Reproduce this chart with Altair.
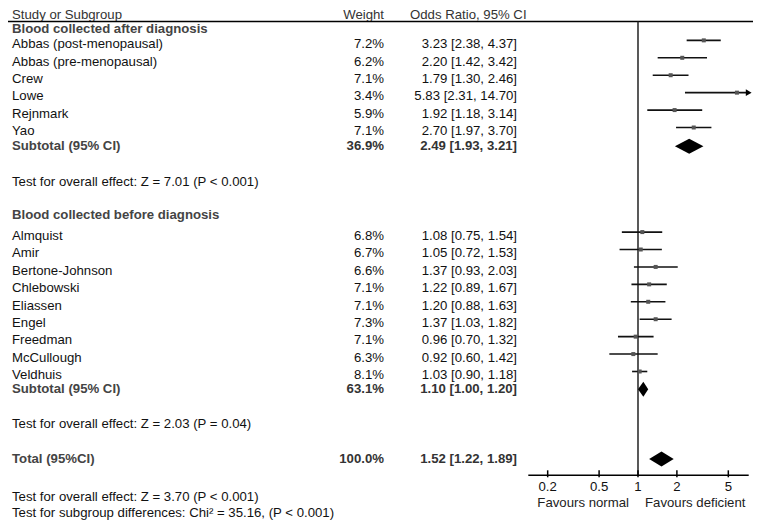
import altair as alt
import pandas as pd

# ---------------- data ----------------
study_names = ["Abbas (post-menopausal)", "Abbas (pre-menopausal)", "Crew", "Lowe", "Rejnmark", "Yao",
               "Almquist", "Amir", "Bertone-Johnson", "Chlebowski", "Eliassen", "Engel", "Freedman",
               "McCullough", "Veldhuis"]
study_weights = [7.2, 6.2, 7.1, 3.4, 5.9, 7.1, 6.8, 6.7, 6.6, 7.1, 7.1, 7.3, 7.1, 6.3, 8.1]
study_or = [3.23, 2.20, 1.79, 5.83, 1.92, 2.70, 1.08, 1.05, 1.37, 1.22, 1.20, 1.37, 0.96, 0.92, 1.03]
study_lo = [2.38, 1.42, 1.30, 2.31, 1.18, 1.97, 0.75, 0.72, 0.93, 0.89, 0.88, 1.03, 0.70, 0.60, 0.90]
study_hi = [4.37, 3.42, 2.46, 14.70, 3.14, 3.70, 1.54, 1.53, 2.03, 1.67, 1.63, 1.82, 1.32, 1.42, 1.18]
study_rows = [0, 1, 2, 3, 4, 5, 11, 12, 13, 14, 15, 16, 17, 18, 19]

pooled_names = ["Subtotal (95% CI)", "Subtotal (95% CI)", "Total (95%CI)"]
pooled_weights = [36.9, 63.1, 100.0]
pooled_or = [2.49, 1.10, 1.52]
pooled_lo = [1.93, 1.00, 1.22]
pooled_hi = [3.21, 1.20, 1.89]
pooled_rows = [5.85, 19.8, 23.8]

group_titles = ["Blood collected after diagnosis", "Blood collected before diagnosis"]
group_rows = [-0.845, 9.8]

notes = ["Test for overall effect: Z = 7.01 (P < 0.001)",
         "Test for overall effect: Z = 2.03 (P = 0.04)",
         "Test for overall effect: Z = 3.70 (P < 0.001)",
         "Test for subgroup differences: Chi² = 35.16, (P < 0.001)"]
note_rows = [7.9, 21.8, 26.0, 26.9]

header_labels = ["Study or Subgroup", "Weight", "Odds Ratio, 95% CI"]
tick_values = [0.2, 0.5, 1, 2, 5]
favour_labels = ["Favours normal", "Favours deficient"]
x_domain = [0.1416, 7.19]

# layout constants (rows)
HEADER_ROW = -1.664
HEADER_LINE = -1.3
AXIS_ROW = 24.73
TICK_TOP, TICK_BOT = 24.45, 24.85
TICK_LABEL_ROW = 25.41
FAVOUR_ROW = 26.31
LINE_SHIFT = 0.22
DIAMOND_HALF = 0.43

FONT = "Liberation Sans"
FS = 13.2

# ---------------- tables ----------------
studies = pd.DataFrame({
    "name": study_names, "weight": [f"{w:.1f}%" for w in study_weights],
    "or": study_or, "lo": study_lo, "hi": study_hi, "row": study_rows,
})
studies["ci"] = [f"{o:.2f} [{l:.2f}, {h:.2f}]" for o, l, h in zip(study_or, study_lo, study_hi)]
studies["yline"] = studies["row"] - LINE_SHIFT
studies["hi_plot"] = studies["hi"].clip(upper=x_domain[1])
studies["lo_plot"] = studies["lo"].clip(lower=x_domain[0])
arrows = studies[studies["hi"] > x_domain[1]].assign(xa=x_domain[1])

pooled = pd.DataFrame({
    "name": pooled_names, "weight": [f"{w:.1f}%" for w in pooled_weights],
    "or": pooled_or, "lo": pooled_lo, "hi": pooled_hi, "row": pooled_rows,
})
pooled["ci"] = [f"{o:.2f} [{l:.2f}, {h:.2f}]" for o, l, h in zip(pooled_or, pooled_lo, pooled_hi)]

diamond_pts = []
for i, r in pooled.iterrows():
    diamond_pts.append({"g": i, "x": r["lo"], "y": r["row"], "y2": r["row"]})
    diamond_pts.append({"g": i, "x": r["or"], "y": r["row"] - DIAMOND_HALF, "y2": r["row"] + DIAMOND_HALF})
    diamond_pts.append({"g": i, "x": r["hi"], "y": r["row"], "y2": r["row"]})
diamonds = pd.DataFrame(diamond_pts)

groups = pd.DataFrame({"text": group_titles, "row": group_rows})
notes_df = pd.DataFrame({"text": notes, "row": note_rows})
ticks_df = pd.DataFrame({"t": tick_values, "label": [f"{t:g}" for t in tick_values],
                         "y": TICK_TOP, "y2": TICK_BOT, "ly": TICK_LABEL_ROW})
favours_df = pd.DataFrame({"x": [1, 1], "label": favour_labels, "row": FAVOUR_ROW})
vline_df = pd.DataFrame({"x": [1], "y": [HEADER_LINE], "y2": [AXIS_ROW]})
axis_df = pd.DataFrame({"x": [x_domain[0]], "x2": [x_domain[1]], "y": [AXIS_ROW]})
hline_df = pd.DataFrame({"y": [HEADER_LINE]})
header_df = pd.DataFrame({"text": header_labels, "row": HEADER_ROW})

# ---------------- scales ----------------
xs = alt.Scale(type="log", domain=x_domain, range=[520.3, 740.7])
ys = alt.Scale(domain=[27.358, -2.0771], nice=False, zero=False)


def Y(field):
    return alt.Y(field, type="quantitative", scale=ys, axis=None)


def X(field):
    return alt.X(field, type="quantitative", scale=xs, axis=None)


def text_layer(df, field, xpx, align, weight="normal", color="#111111", dx=0):
    return alt.Chart(df).mark_text(
        align=align, baseline="middle", font=FONT, fontSize=FS, fontWeight=weight, color=color, dx=dx
    ).encode(x=alt.value(xpx), y=Y("row"), text=alt.Text(f"{field}:N"))


layers = []

# header
layers.append(alt.Chart(header_df.iloc[[0]]).mark_text(
    align="left", baseline="middle", font=FONT, fontSize=FS, color="#333333"
).encode(x=alt.value(4), y=Y("row"), text="text:N"))
layers.append(alt.Chart(header_df.iloc[[1]]).mark_text(
    align="right", baseline="middle", font=FONT, fontSize=FS, color="#333333"
).encode(x=alt.value(376), y=Y("row"), text="text:N"))
layers.append(alt.Chart(header_df.iloc[[2]]).mark_text(
    align="left", baseline="middle", font=FONT, fontSize=FS, color="#333333"
).encode(x=alt.value(402), y=Y("row"), text="text:N"))
layers.append(alt.Chart(hline_df).mark_rule(color="black", strokeWidth=1.5).encode(
    x=alt.value(0), x2=alt.value(745), y=Y("y")))

# group titles
layers.append(text_layer(groups, "text", 4, "left", "bold", "#444444"))

# study rows text
layers.append(text_layer(studies, "name", 4, "left"))
layers.append(text_layer(studies, "weight", 376, "right"))
layers.append(text_layer(studies, "ci", 509, "right"))

# pooled rows text
layers.append(text_layer(pooled, "name", 4, "left", "bold", "#444444"))
layers.append(text_layer(pooled, "weight", 376, "right", "bold", "#333333"))
layers.append(text_layer(pooled, "ci", 509, "right", "bold", "#333333"))

# notes
layers.append(text_layer(notes_df, "text", 4, "left"))

# vertical line at OR = 1
layers.append(alt.Chart(vline_df).mark_rule(color="#222222", strokeWidth=1.5).encode(
    x=X("x"), y=Y("y"), y2="y2"))

# CI lines
layers.append(alt.Chart(studies).mark_rule(color="#111111", strokeWidth=1.6).encode(
    x=X("lo_plot"), x2="hi_plot", y=Y("yline")))
# squares
layers.append(alt.Chart(studies).mark_square(size=16, color="#555555", opacity=1).encode(
    x=X("or"), y=Y("yline")))
# arrows for CIs beyond the axis
layers.append(alt.Chart(arrows).mark_point(shape="triangle-right", filled=True, size=45,
                                           color="black", opacity=1).encode(
    x=X("xa"), y=Y("yline")))

# diamonds
layers.append(alt.Chart(diamonds).mark_area(color="black", orient="vertical", opacity=1).encode(
    x=X("x"), y=Y("y"), y2="y2", detail="g:N"))

# axis
layers.append(alt.Chart(axis_df).mark_rule(color="black", strokeWidth=1.5).encode(
    x=X("x"), x2="x2", y=Y("y")))
layers.append(alt.Chart(ticks_df).mark_rule(color="black", strokeWidth=1.5).encode(
    x=X("t"), y=Y("y"), y2="y2"))
layers.append(alt.Chart(ticks_df).mark_text(baseline="middle", align="center", font=FONT,
                                            fontSize=FS, color="#111111").encode(
    x=X("t"), y=Y("ly"), text="label:N"))
layers.append(alt.Chart(favours_df.iloc[[0]]).mark_text(baseline="middle", align="right", font=FONT,
                                                        fontSize=FS, color="#222222", dx=-9).encode(
    x=X("x"), y=Y("row"), text="label:N"))
layers.append(alt.Chart(favours_df.iloc[[1]]).mark_text(baseline="middle", align="left", font=FONT,
                                                        fontSize=FS, color="#222222", dx=7).encode(
    x=X("x"), y=Y("row"), text="label:N"))

chart = alt.layer(*layers).properties(
    width=745, height=513,
    autosize=alt.AutoSizeParams(type="none"),
    padding=0,
    background="white",
).configure_view(stroke=None)

chart.save("out.html", embed_options={"renderer": "svg", "actions": False})
